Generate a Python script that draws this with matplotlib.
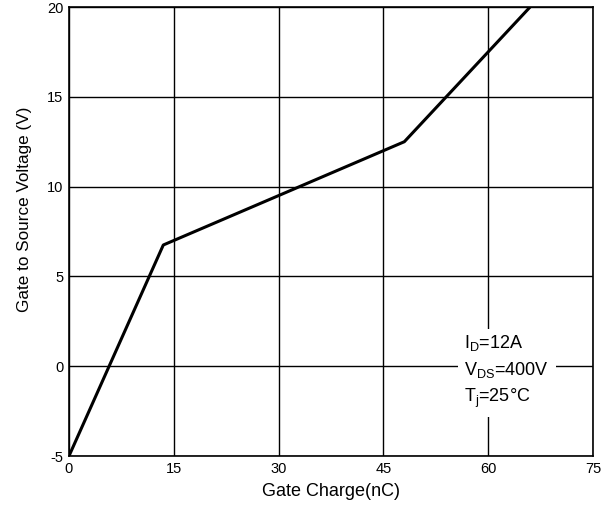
import matplotlib
matplotlib.use("Agg")
import matplotlib.pyplot as plt

plt.rcParams['font.family'] = ['Liberation Sans', 'DejaVu Sans']
plt.rcParams['mathtext.fontset'] = 'custom'
plt.rcParams['mathtext.rm'] = 'Liberation Sans'
plt.rcParams['axes.unicode_minus'] = False

charge = [0, 13.5, 48, 66]
vgs = [-5, 6.75, 12.5, 20]
xticks = [0, 15, 30, 45, 60, 75]
yticks = [-5, 0, 5, 10, 15, 20]
annot = "$\\mathregular{I_D}$=12A\n$\\mathregular{V_{DS}}$=400V\n$\\mathregular{T_j}$=25°C"

fig = plt.figure(figsize=(6.02, 5.09), dpi=100)
ax = fig.add_axes([0.1146, 0.1041, 0.8704, 0.8821])
ax.set_xlim(0, 75)
ax.set_ylim(-5, 20)
ax.set_xticks(xticks)
ax.set_yticks(yticks)
ax.grid(True, color='black', linewidth=1.0)
ax.set_axisbelow(True)
ax.tick_params(length=0, labelsize=10.5, pad=4)
for s in ax.spines.values():
    s.set_linewidth(1.2)
ax.plot(charge, vgs, color='black', linewidth=2.2, zorder=3)
ax.text(56.6, -0.3, annot, ha='left', va='center', fontsize=13, linespacing=1.45,
        bbox=dict(facecolor='white', edgecolor='none', pad=5), zorder=4)
ax.set_xlabel('Gate Charge(nC)', fontsize=13, labelpad=5)
ax.set_ylabel('Gate to Source Voltage (V)', fontsize=12.3)
ax.yaxis.set_label_coords(-0.071, 0.55)
fig.savefig('out.png', dpi=100)
